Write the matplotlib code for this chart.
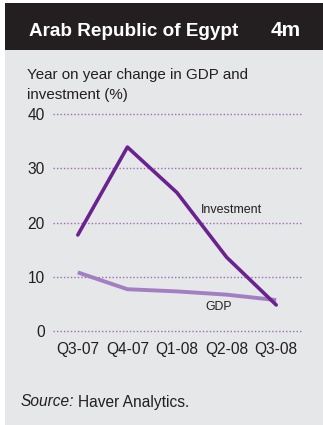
import matplotlib
matplotlib.use("Agg")
import matplotlib.pyplot as plt
from matplotlib.patches import Rectangle

quarters = ["Q3-07", "Q4-07", "Q1-08", "Q2-08", "Q3-08"]
investment = [17.7, 33.9, 25.5, 13.6, 4.8]
gdp = [10.8, 7.7, 7.3, 6.7, 5.7]
yticks = [0, 10, 20, 30, 40]

plt.rcParams["font.family"] = ["Liberation Sans", "DejaVu Sans"]

W, H = 323, 425
fig = plt.figure(figsize=(W / 100, H / 100), dpi=100)
fig.patch.set_facecolor("white")

def fx(px):
    return px / W

def fy(py):
    return 1 - py / H

# panel background and dark header band
fig.patches.append(Rectangle((fx(5), 0), 1 - fx(5), fy(50), transform=fig.transFigure,
                             facecolor="#e6e7e8", edgecolor="none", zorder=-2))
fig.patches.append(Rectangle((fx(5), fy(50)), 1 - fx(5), fy(3) - fy(50), transform=fig.transFigure,
                             facecolor="#231f20", edgecolor="none", zorder=-2))

fig.text(fx(29), fy(31), "Arab Republic of Egypt", color="white", fontsize=13.6,
         fontweight="bold", ha="left", va="center")
fig.text(fx(301), fy(31), "4m", color="white", fontsize=15,
         fontweight="bold", ha="right", va="center")

fig.text(fx(27), fy(75), "Year on year change in GDP and", color="#231f20",
         fontsize=10.9, ha="left", va="center")
fig.text(fx(27), fy(95), "investment (%)", color="#231f20",
         fontsize=10.9, ha="left", va="center")

ax = fig.add_axes([fx(53), fy(331), fx(301) - fx(53), fy(114) - fy(331)])
ax.set_zorder(2)
ax.set_facecolor("none")
ax.set_xlim(-0.5, 4.5)
ax.set_ylim(0, 40)
for s in ax.spines.values():
    s.set_visible(False)

for v in yticks:
    ax.axhline(v, color="#9a6db5", lw=1.0, ls=(0, (1, 1.5)), clip_on=False, zorder=1)

x = list(range(len(quarters)))
ax.plot(x, gdp, color="#a47ec2", lw=2.8, solid_capstyle="butt", solid_joinstyle="round",
        zorder=3, clip_on=False)
ax.plot(x, investment, color="#6a2290", lw=2.6, solid_capstyle="round", solid_joinstyle="round",
        zorder=4, clip_on=False)

ax.set_yticks(yticks)
ax.set_xticks(x)
ax.set_xticklabels(quarters)
ax.tick_params(axis="both", length=0, labelsize=11.2, colors="#231f20")
ax.tick_params(axis="y", pad=6)
ax.tick_params(axis="x", pad=8)

ax.text(2.48, 22.3, "Investment", fontsize=9, color="#231f20", ha="left", va="center")
ax.text(2.58, 4.4, "GDP", fontsize=8.8, color="#231f20", ha="left", va="center")

fig.text(fx(21), fy(402), "Source:", fontsize=11.2, style="italic", color="#231f20",
         ha="left", va="center")
fig.text(fx(78), fy(402), "Haver Analytics.", fontsize=11.2, color="#231f20",
         ha="left", va="center")

fig.savefig("out.png", dpi=100)
